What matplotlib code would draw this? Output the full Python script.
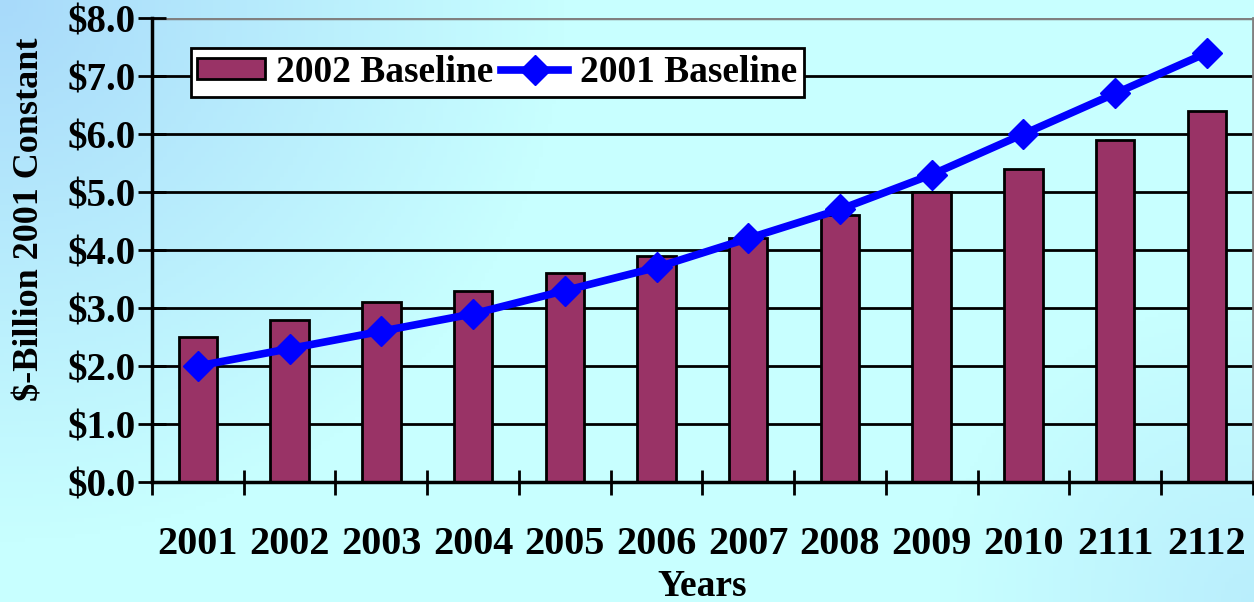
import numpy as np
import matplotlib.pyplot as plt
from matplotlib.patches import Patch
from matplotlib.lines import Line2D

# Annual cost, $ billion (2001 constant)
years = ['2001', '2002', '2003', '2004', '2005', '2006',
         '2007', '2008', '2009', '2010', '2111', '2112']
baseline_2002 = [2.5, 2.8, 3.1, 3.3, 3.6, 3.9, 4.2, 4.6, 5.0, 5.4, 5.9, 6.4]
baseline_2001 = [2.0, 2.3, 2.6, 2.9, 3.3, 3.7, 4.2, 4.7, 5.3, 6.0, 6.7, 7.4]
y_ticks = [0, 1, 2, 3, 4, 5, 6, 7, 8]

plt.rcParams['font.family'] = 'Liberation Serif'
plt.rcParams['font.weight'] = 'bold'
plt.rcParams['axes.labelweight'] = 'bold'

fig = plt.figure(figsize=(12.54, 6.02), dpi=100)

# soft blue-to-cyan backdrop, bluest in the top-left corner
bg = fig.add_axes([0, 0, 1, 1], zorder=-1)
gx, gy = np.meshgrid(np.linspace(0, 1, 300), np.linspace(0, 1, 150))
w_tl = np.clip(1 - np.hypot(gx / 0.45, gy / 0.9), 0, 1)
w_br = 0.45 * np.clip(1 - np.hypot((1 - gx) / 0.25, (1 - gy) / 0.5), 0, 1)
w = np.clip(w_tl + w_br, 0, 1)[..., None]
cyan = np.array([200, 255, 255]) / 255
blue = np.array([168, 218, 250]) / 255
img = cyan + (blue - cyan) * w
bg.imshow(img, extent=[0, 1, 0, 1], aspect='auto', origin='upper')
bg.axis('off')

ax = fig.add_axes([0.1212, 0.1993, 0.8778, 0.7707])
ax.set_facecolor('none')

x = np.arange(len(years))
ax.bar(x, baseline_2002, width=0.42, color='#993366', edgecolor='black',
       linewidth=2, zorder=2)
ax.plot(x, baseline_2001, color='#0000ff', linewidth=5.5, marker='D',
        markersize=15, zorder=3)

ax.set_xlim(-0.5, len(years) - 0.5)
ax.set_ylim(0, 8)

ax.set_yticks(y_ticks)
ax.set_yticklabels(['${:.1f}'.format(v) for v in y_ticks], fontsize=28)
for v in y_ticks[1:-1]:
    ax.axhline(v, color='black', linewidth=2, zorder=1)
ax.axhline(8, color='#808080', linewidth=2.5, zorder=1)

ax.set_xticks(x)
ax.set_xticklabels(years, fontsize=29)
ax.tick_params(axis='x', which='major', length=0, pad=32)
ax.set_xticks(np.arange(-0.5, len(years), 1.0), minor=True)
ax.tick_params(axis='x', which='minor', direction='inout', length=18, width=2)
ax.tick_params(axis='y', direction='inout', length=20, width=2, pad=2)

for side in ['left', 'bottom']:
    ax.spines[side].set_linewidth(2.5)
ax.spines['top'].set_visible(False)
ax.spines['right'].set_color('#808080')
ax.spines['right'].set_linewidth(2)

ax.set_xlabel('Years', fontsize=27, labelpad=4)
ax.set_ylabel('$-Billion 2001 Constant', fontsize=26)
ax.yaxis.set_label_coords(-0.096, 0.567)

handles = [Patch(facecolor='#993366', edgecolor='black', linewidth=2),
           Line2D([], [], color='#0000ff', linewidth=5.5, marker='D',
                  markersize=15)]
leg = ax.legend(handles, ['2002 Baseline', '2001 Baseline'], ncol=2,
                loc='upper left', bbox_to_anchor=(0.035, 0.935),
                fontsize=27, frameon=True, fancybox=False, framealpha=1,
                edgecolor='black', borderpad=0.18, handlelength=1.8,
                handleheight=0.5, handletextpad=0.3, columnspacing=0.2,
                borderaxespad=0)
leg.get_frame().set_linewidth(2)

plt.savefig('out.png', dpi=100)
